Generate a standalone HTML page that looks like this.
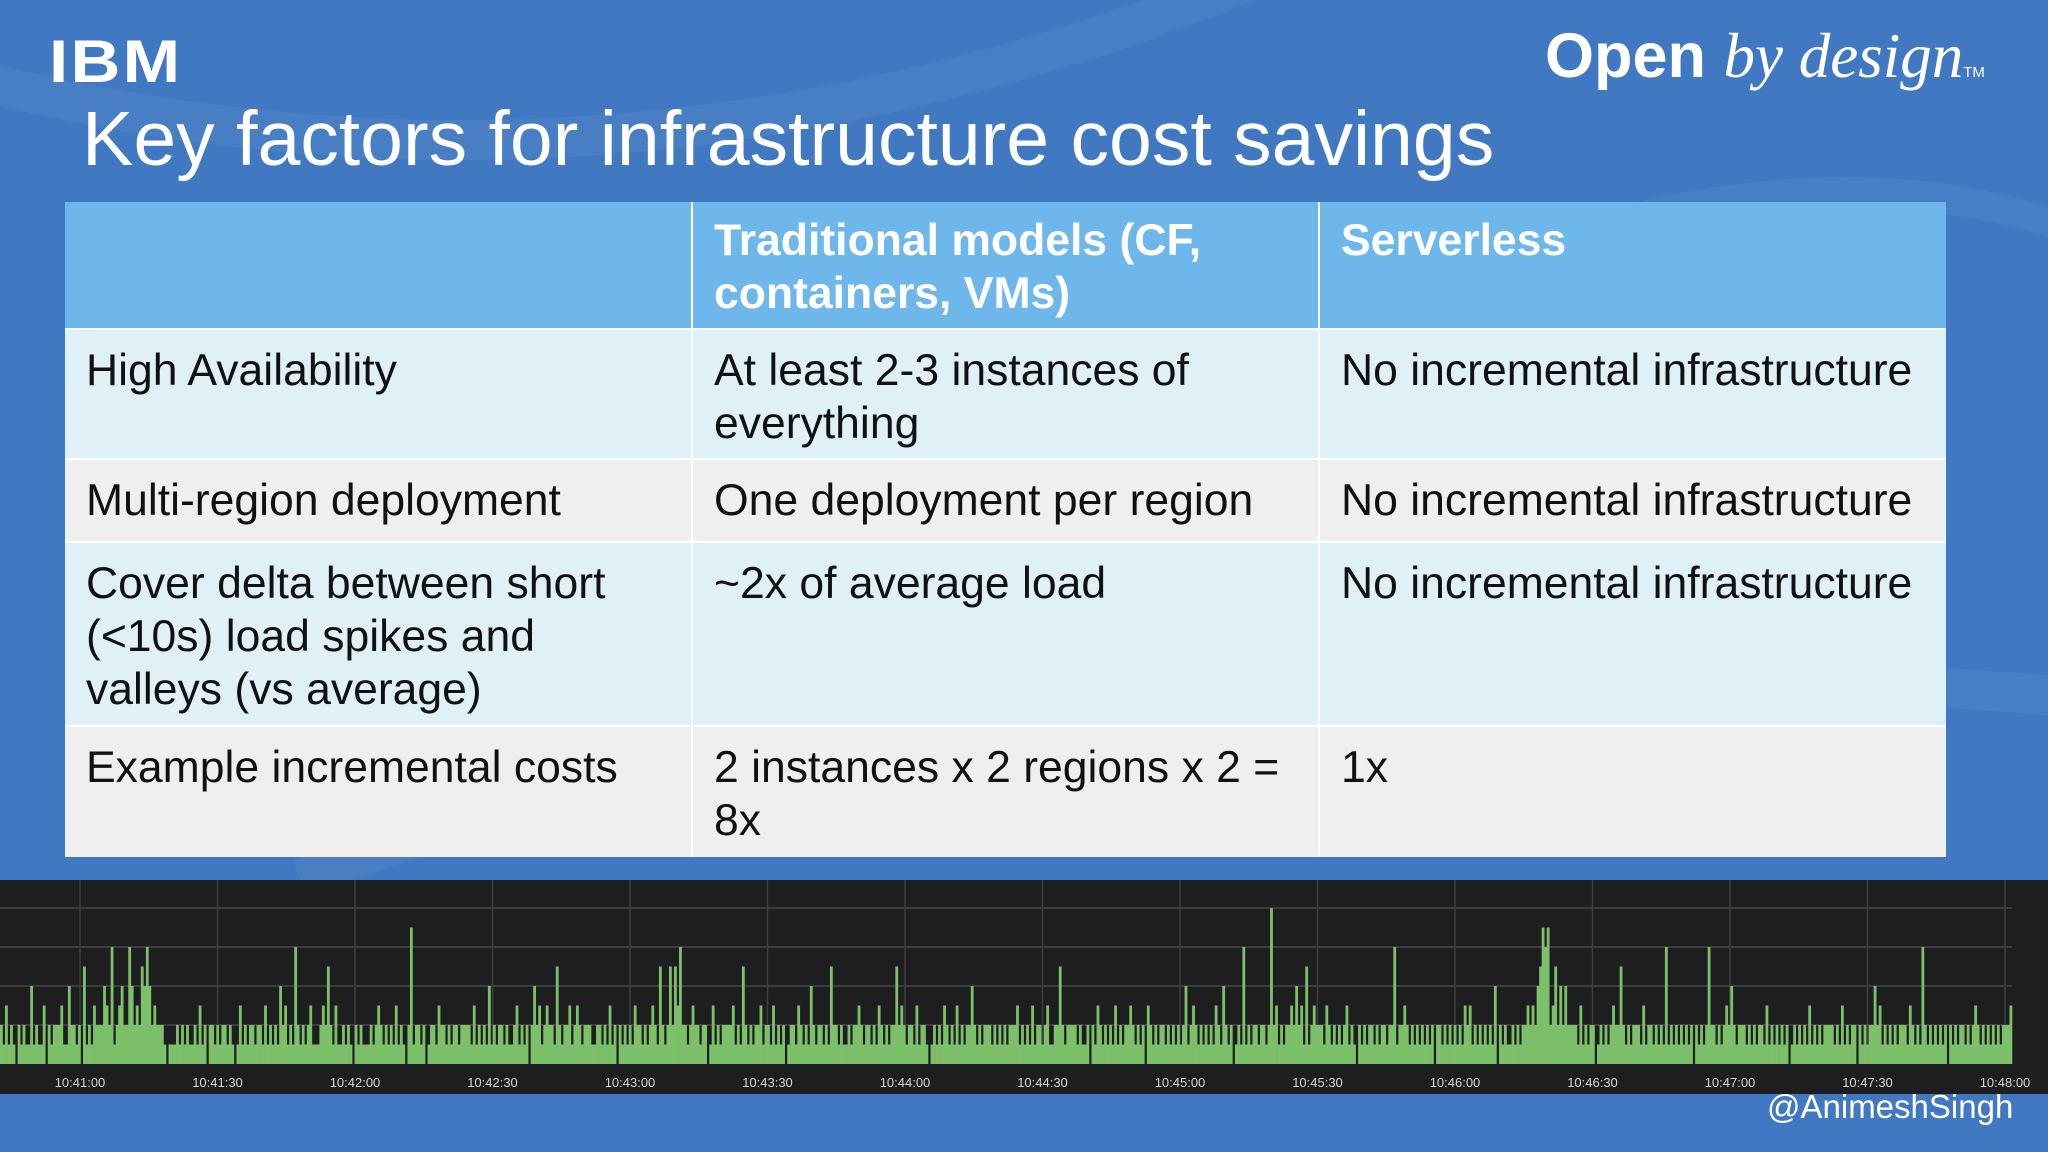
<!DOCTYPE html>
<html><head><meta charset="utf-8"><style>
body{margin:0;width:2048px;height:1152px;overflow:hidden;background:#4079c1;font-family:"Liberation Sans",sans-serif;position:relative}
.abs{position:absolute}
table{border-collapse:collapse;table-layout:fixed}
td{vertical-align:top;padding:14px 20px 0 21px;font-size:44.5px;line-height:53px;color:#111;border-left:2px solid #fff;border-top:2px solid #fff}
td:first-child{border-left:none}
tr.h td{background:#6db7ea;color:#fff;font-weight:bold;border-top:none;padding-top:12px}
tr.b td{background:#dff0f7}
tr.g td{background:#efefee}
</style></head><body>
<svg class="abs" style="left:0;top:0" width="2048" height="1152">
<path d="M-100 60 Q600 260 1300 -40" stroke="#4d84c8" stroke-width="40" fill="none" opacity=".5"/>
<path d="M300 880 Q1000 600 2100 700" stroke="#4d84c8" stroke-width="40" fill="none" opacity=".5"/>
<path d="M1400 300 Q1800 120 2100 240" stroke="#4d84c8" stroke-width="30" fill="none" opacity=".5"/>
</svg>
<div class="abs" style="left:49px;top:30px;font-size:60px;font-weight:bold;color:#fff;letter-spacing:2px;line-height:64px;transform:scaleX(1.15);transform-origin:left">IBM</div>
<div class="abs" style="left:1545px;top:20px;color:#fff;font-size:63px;white-space:nowrap"><b>Open</b> <span style="font-family:'Liberation Serif',serif;font-style:italic">by design</span><span style="font-size:15px">TM</span></div>
<div class="abs" style="left:82px;top:95px;color:#fff;font-size:77px;white-space:nowrap">Key factors for infrastructure cost savings</div>
<table class="abs" style="left:65px;top:202px;width:1881px">
<colgroup><col style="width:627px"><col style="width:627px"><col style="width:627px"></colgroup>
<tr class="h" style="height:127px"><td></td><td>Traditional models (CF, containers, VMs)</td><td>Serverless</td></tr>
<tr class="b" style="height:130px"><td>High Availability</td><td>At least 2-3 instances of everything</td><td>No incremental infrastructure</td></tr>
<tr class="g" style="height:83px"><td>Multi-region deployment</td><td>One deployment per region</td><td>No incremental infrastructure</td></tr>
<tr class="b" style="height:184px"><td>Cover delta between short (&lt;10s) load spikes and<br>valleys (vs average)</td><td>~2x of average load</td><td>No incremental infrastructure</td></tr>
<tr class="g" style="height:131px"><td>Example incremental costs</td><td>2 instances x 2 regions x 2 = 8x</td><td>1x</td></tr>
</table>
<svg id="chart" class="abs" style="left:0;top:880px" width="2048" height="214"></svg>
<div class="abs" style="left:1767px;top:1088px;color:#fff;font-size:33px">@AnimeshSingh</div>
<script>
const tickLabels=["10:41:00","10:41:30","10:42:00","10:42:30","10:43:00","10:43:30","10:44:00","10:44:30","10:45:00","10:45:30","10:46:00","10:46:30","10:47:00","10:47:30","10:48:00"];
const gridValues=[2,4,6,8];
const loadSeries=(
"21312102121141211302122231142212051213222432612342"+
"26423254642322210111212121121312022121221210131212"+
"21221312121423121621212311123252131121210212111212"+
"32121213121027122120122132212122122221312121412122"+
"12112312120242312322152122312321222112212131202121"+
"21322121232152125253622123221220131212222312152121"+
"22312213121201221321214212212152212112122321221213"+
"21212252321221312210121213212131212242121222121212"+
"12223121213122123112252122221211202132121213121223"+
"21212032121221212121241232121212132142120121612122"+
"12212823121223242315123222132121212312102121221212"+
"21226122321212121212022121212121323121212121402121"+
"12121223232457672352424222213121220121212322521212"+
"22131221212161212121212021212622121232421222121212"+
"21312121212012121213121212222121312122021212242312"+
"12121222132121621212121202121221212321212121212223").split("").map(Number);
const svg=document.getElementById('chart');
const NS='http://www.w3.org/2000/svg';
const W=2048,H=214,base=184,unit=19.5,x0=0,x1=2012;
const yS=v=>base-v*unit;
const tX=i=>80+i*137.5;
function el(t,a){const e=document.createElementNS(NS,t);for(const k in a)e.setAttribute(k,a[k]);svg.appendChild(e);return e;}
const bg=el('rect',{x:0,y:0,width:W,height:H,fill:'#1e1e20'});


gridValues.forEach(v=>{const g=el('line',{x1:0,x2:x1,y1:yS(v),y2:yS(v),stroke:'#3d3d40','stroke-width':2});

});
tickLabels.forEach((t,i)=>{const g=el('line',{x1:tX(i),x2:tX(i),y1:0,y2:base,stroke:'#3d3d40','stroke-width':1.5});


const tx=el('text',{x:tX(i),y:base+23,'text-anchor':'middle',fill:'#d8d8d8','font-size':13,'font-family':'Liberation Sans, sans-serif'});
tx.textContent=t;

});
const n=loadSeries.length,bw=(x1-x0)/n;
loadSeries.forEach((v,i)=>{const x=x0+i*bw;
const r=el('rect',{x:x,y:yS(v),width:bw+0.3,height:v*unit,fill:'#7dc06a'});

});
</script>
</body></html>
